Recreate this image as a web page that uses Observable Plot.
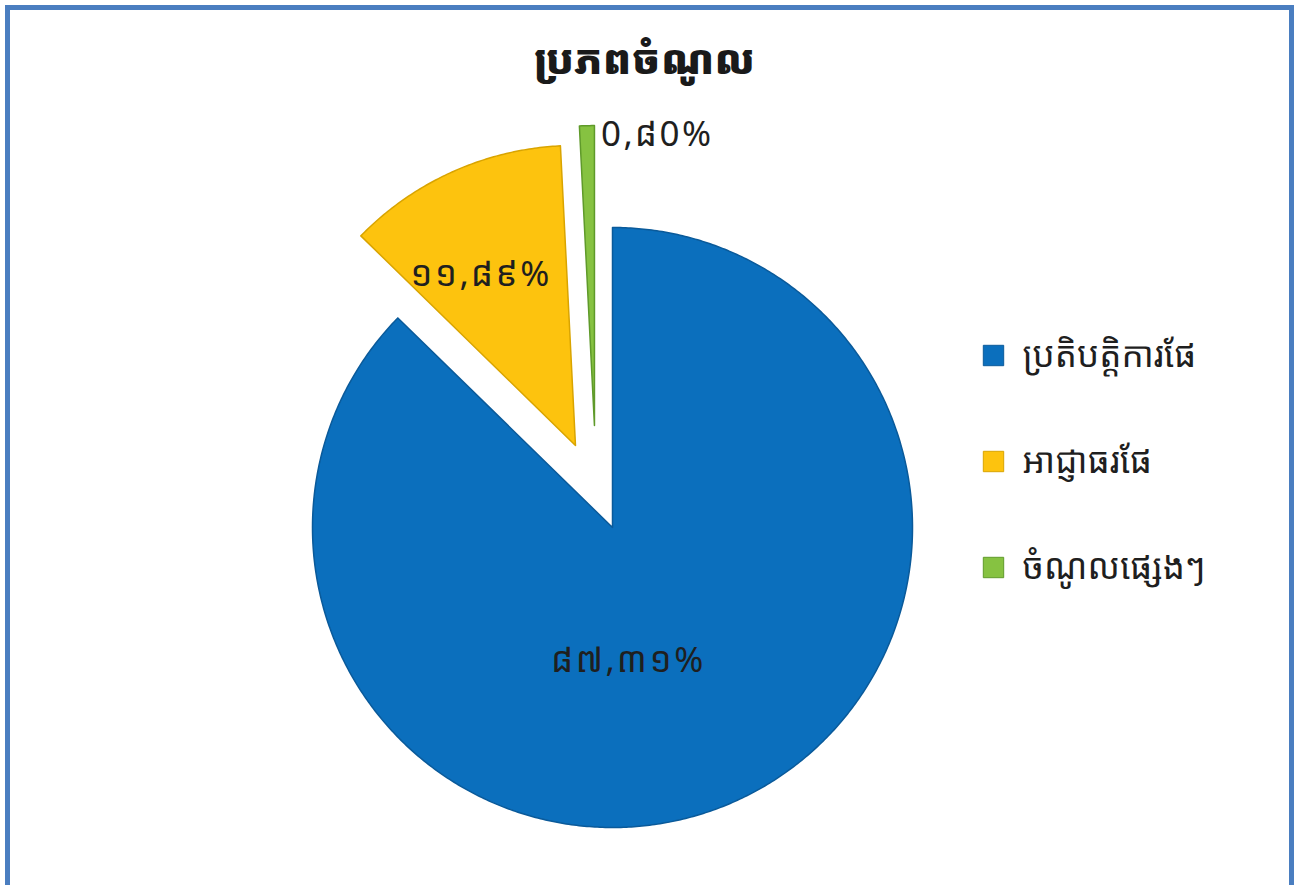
<!DOCTYPE html>
<html>
<head>
<meta charset="utf-8">
<script src="https://cdn.jsdelivr.net/npm/d3@7"></script>
<script src="https://cdn.jsdelivr.net/npm/@observablehq/plot@0.6"></script>
<style>
  html, body { margin: 0; padding: 0; background: #fff; }
  body { width: 1298px; height: 885px; overflow: hidden; position: relative;
         font-family: "Noto Sans Khmer", "Noto Serif Khmer", "Khmer OS", "Khmer OS System", "Noto Sans", sans-serif; }
  #frame { position: absolute; left: 5px; top: 5px; width: 1279px; height: 900px;
           border: 5px solid #4a7ec0; box-sizing: content-box; }
  #title { position: absolute; left: 0; top: 28px; width: 1290px; text-align: center;
           font-size: 41px; font-weight: 900; color: #1a1a1a; line-height: 60px; }
  #chart { position: absolute; left: 0; top: 100px; }
  #chart .pct text { letter-spacing: 2.5px; }
</style>
</head>
<body>
<div id="frame"></div>
<div id="title">ប្រភពចំណូល</div>
<div id="chart"></div>
<script>
// ---- data ----
const categories = ["ប្រតិបត្តិការផែ", "អាជ្ញាធរផែ", "ចំណូលផ្សេងៗ"];
const values = [87.31, 11.89, 0.80];
const valueLabels = ["៨៧,៣១%", "១១,៨៩%", "0,៨0%"];
const colors = ["#0b6fbd", "#fdc30e", "#86c241"];
const edgeColors = ["#0a5a9a", "#d9a400", "#5f9a2a"];

// ---- layout / style ----
const W = 1298, H = 785;
const R = 300;               // pixels per unit radius
const cx = 612, cy = 427;    // pie centre in svg pixels
const explode = [0, 0.30, 0.345];      // in radius units
const deg = Math.PI / 180;
const explodeTurn = [0, 0, -8.6 * deg];
const labelR = [0.446, 0.65, 0.98];
const labelTurn = [16 * deg, -4.7 * deg, 0];

const pie = d3.pie().sort(null).value(d => d)(values);

const slicePts = [];
const labelData = [];
pie.forEach((p, i) => {
  const mid = (p.startAngle + p.endAngle) / 2;
  const ea = mid + explodeTurn[i];
  const ox = explode[i] * Math.sin(ea), oy = explode[i] * Math.cos(ea);
  const pts = [{x: ox, y: oy}];
  const n = Math.max(4, Math.ceil((p.endAngle - p.startAngle) / (Math.PI / 360)));
  for (let k = 0; k <= n; k++) {
    const a = p.startAngle + (p.endAngle - p.startAngle) * k / n;
    pts.push({x: ox + Math.sin(a), y: oy + Math.cos(a)});
  }
  pts.push({x: ox, y: oy});
  pts.forEach(q => slicePts.push({...q, cat: categories[i], fill: colors[i], stroke: edgeColors[i]}));
  const la = mid + labelTurn[i];
  labelData.push({
    x: ox + labelR[i] * Math.sin(la),
    y: oy + labelR[i] * Math.cos(la),
    text: valueLabels[i],
    anchor: i === 2 ? "start" : "middle"
  });
});

const legendX = (993 - cx) / R, legendY0 = (cy - 255) / R, legendStep = 106 / R;
const legendData = categories.map((c, i) => ({
  x: legendX, y: legendY0 - i * legendStep, cat: c, fill: colors[i], stroke: edgeColors[i]
}));

const chart = Plot.plot({
  width: W, height: H,
  margin: 0,
  x: {domain: [-cx / R, (W - cx) / R], axis: null},
  y: {domain: [-(H - cy) / R, cy / R], axis: null},
  color: {type: "identity"},
  style: {fontFamily: '"Noto Sans Khmer", "Noto Serif Khmer", "Khmer OS", "Noto Sans", sans-serif', background: "transparent"},
  marks: [
    Plot.line(slicePts, {x: "x", y: "y", z: "cat", fill: "fill", stroke: "stroke", strokeWidth: 1.5, curve: "linear"}),
    Plot.text(labelData.filter(d => d.anchor === "middle"), {x: "x", y: "y", text: "text", fontSize: 35, fill: "#1f1f1f", textAnchor: "middle", className: "pct"}),
    Plot.text(labelData.filter(d => d.anchor === "start"), {x: "x", y: "y", text: "text", fontSize: 35, fill: "#1f1f1f", textAnchor: "start", dx: 14, dy: 3, className: "pct"}),
    Plot.dot(legendData, {x: "x", y: "y", symbol: "square", r: 11.5, fill: "fill", stroke: "stroke", strokeWidth: 1}),
    Plot.text(legendData, {x: "x", y: "y", text: "cat", dx: 29, textAnchor: "start", fontSize: 35, fill: "#1f1f1f"})
  ]
});
document.getElementById("chart").appendChild(chart);
</script>
</body>
</html>
